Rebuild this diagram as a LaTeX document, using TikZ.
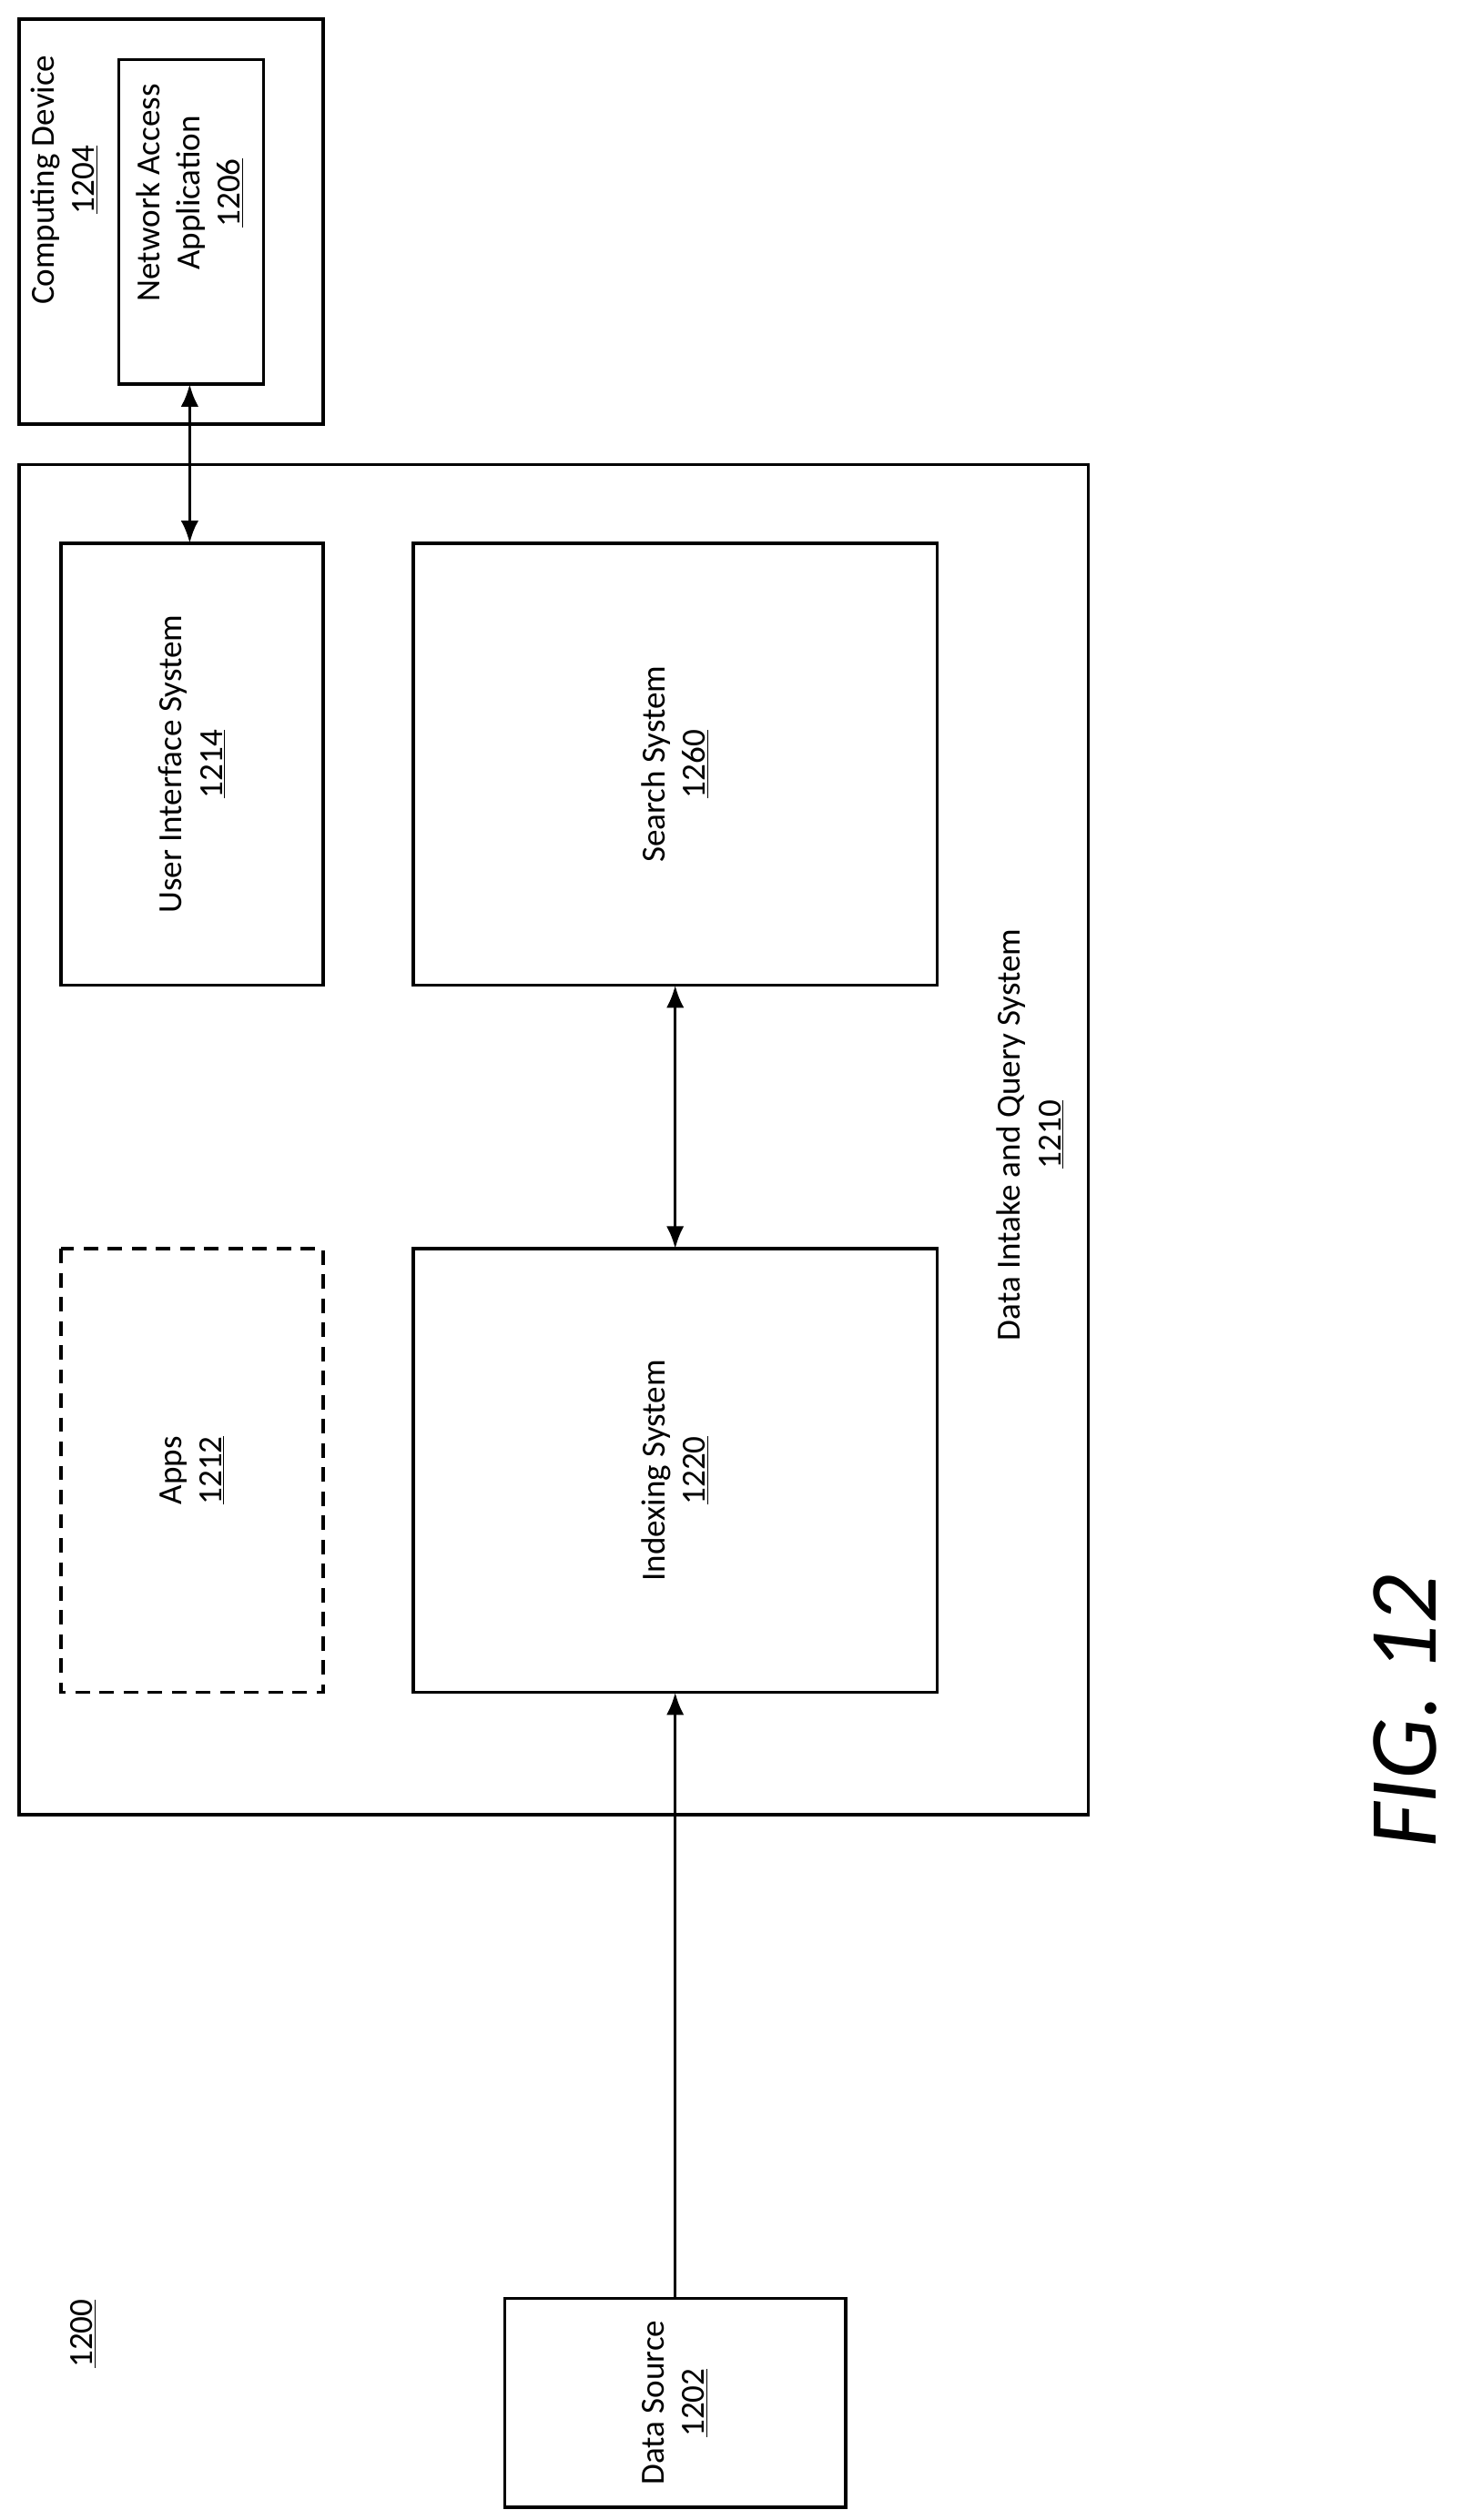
\documentclass[tikz,border=0pt]{standalone}
\usepackage{fontspec}
\setmainfont{Carlito}
\usetikzlibrary{arrows.meta}
\newcommand{\refnum}[1]{\underline{#1}}
\begin{document}
\begin{tikzpicture}
	[x=1pt,y=-1pt,
	every node/.style={font=\fontsize{21}{25}\selectfont},
	blockbox/.style={draw,line width=2pt},
	lbl/.style={rotate=90,align=center},
	conn/.style={line width=2pt,-{Latex[length=14pt,width=11pt]}},
	dconn/.style={line width=2pt,{Latex[length=14pt,width=11pt]}-{Latex[length=14pt,width=11pt]}}
	]
	\useasboundingbox (0,0) rectangle (909,1568);
	% outer systems
	\draw[blockbox] (12,12) rectangle (201,264);
	\node[lbl] (devlbl) at (40,112) {Computing Device\\\refnum{1204}};
	\draw[blockbox] (74,37) rectangle (164,239);
	\node[lbl] (netapp) at (118,120) {Network Access\\Application\\\refnum{1206}};
	\coordinate (netbot) at (118,239);
	\draw[blockbox] (12,289) rectangle (677,1129);
	\node[lbl] (dilbl) at (641,706) {Data Intake and Query System\\\refnum{1210}};
	% inner blocks
	\draw[blockbox] (38,338) rectangle (201,613);
	\node[lbl] (ui) at (119.5,475.5) {User Interface System\\\refnum{1214}};
	\coordinate (uitop) at (118,338);
	\draw[blockbox] (257,338) rectangle (583,613);
	\node[lbl] (search) at (420,475.5) {Search System\\\refnum{1260}};
	\coordinate (searchbot) at (420,613);
	\draw[blockbox,dashed,dash pattern=on 9pt off 6pt] (38,777) rectangle (201,1053);
	\node[lbl] (apps) at (119.5,915) {Apps\\\refnum{1212}};
	\draw[blockbox] (257,777) rectangle (583,1053);
	\node[lbl] (index) at (420,915) {Indexing System\\\refnum{1220}};
	\coordinate (indextop) at (420,777);
	\coordinate (indexbot) at (420,1053);
	\draw[blockbox] (314,1430) rectangle (526,1560);
	\node[lbl] (source) at (420,1495) {Data Source\\\refnum{1202}};
	\coordinate (sourcetop) at (420,1430);
	\node[rotate=90] (fignum) at (52,1452) {\refnum{1200}};
	\node[rotate=90,font=\fontsize{60}{68}\selectfont\itshape,inner sep=0pt] (fig) at (874,1065) {FIG. 12};
	% connectors
	\draw[dconn] (netbot) -- (uitop);
	\draw[dconn] (searchbot) -- (indextop);
	\draw[conn] (sourcetop) -- (indexbot);
\end{tikzpicture}
\end{document}
